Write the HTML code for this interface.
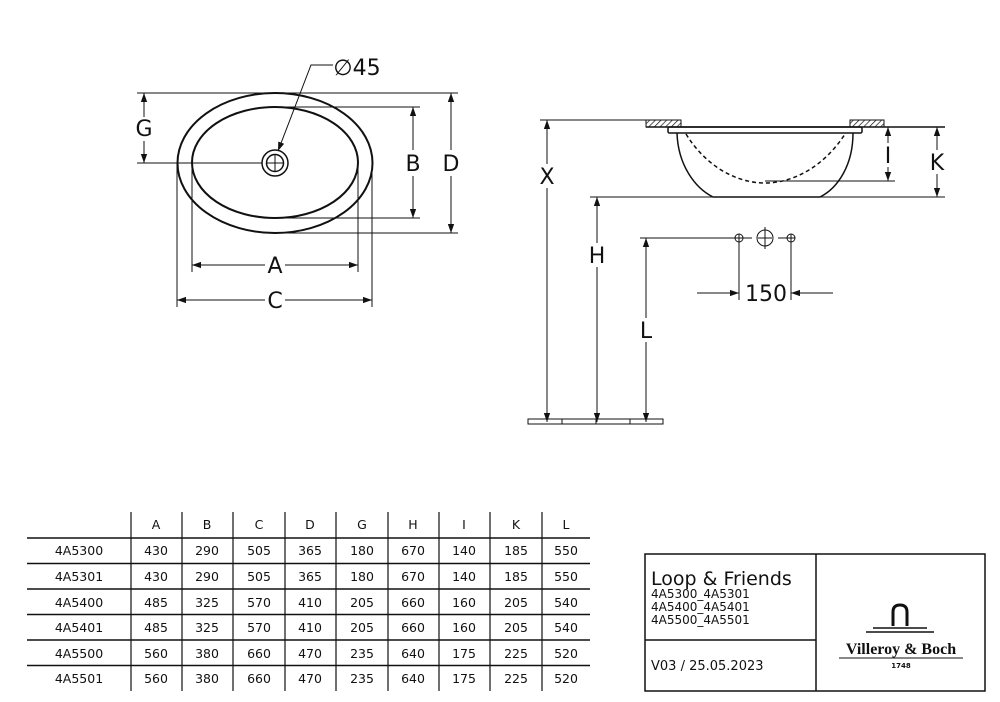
<!DOCTYPE html>
<html><head><meta charset="utf-8"><style>
body{margin:0;background:#fff}
svg{display:block}
text{font-family:"DejaVu Sans","Liberation Sans",sans-serif;fill:#111}
</style></head><body>
<svg width="1000" height="702" viewBox="0 0 1000 702" xmlns="http://www.w3.org/2000/svg">
<defs>
<marker id="a" viewBox="0 0 10 10" refX="10" refY="5" markerWidth="9" markerHeight="9" markerUnits="userSpaceOnUse" orient="auto-start-reverse"><path d="M0,1.5 L10,5 L0,8.5 z" fill="#111"/></marker>
<pattern id="h" width="4" height="4" patternUnits="userSpaceOnUse" patternTransform="rotate(45)"><line x1="0" y1="0" x2="0" y2="4" stroke="#111" stroke-width="1.4"/></pattern>
</defs>
<g stroke="#111" fill="none" stroke-width="1">
<!-- plan view -->
<ellipse cx="275" cy="163" rx="97.5" ry="70" stroke-width="2"/>
<ellipse cx="275" cy="162.5" rx="83" ry="55.5" stroke-width="2"/>
<circle cx="275" cy="163" r="13" stroke-width="1.5"/>
<circle cx="275" cy="163" r="8.5" stroke-width="1.5"/>
<line x1="267" y1="163" x2="283" y2="163"/><line x1="275" y1="155" x2="275" y2="171"/>
<line x1="137" y1="93" x2="458" y2="93"/>
<line x1="137" y1="163" x2="262" y2="163"/>
<line x1="275" y1="107" x2="420" y2="107"/>
<line x1="275" y1="218" x2="420" y2="218"/>
<line x1="275" y1="233" x2="458" y2="233"/>
<line x1="192" y1="163" x2="192" y2="272"/><line x1="358" y1="163" x2="358" y2="272"/>
<line x1="177" y1="163" x2="177" y2="307"/><line x1="372" y1="163" x2="372" y2="307"/>
<line x1="144" y1="93" x2="144" y2="163" marker-start="url(#a)" marker-end="url(#a)"/>
<line x1="413" y1="107" x2="413" y2="218" marker-start="url(#a)" marker-end="url(#a)"/>
<line x1="451" y1="93" x2="451" y2="233" marker-start="url(#a)" marker-end="url(#a)"/>
<line x1="192" y1="265" x2="358" y2="265" marker-start="url(#a)" marker-end="url(#a)"/>
<line x1="177" y1="300" x2="372" y2="300" marker-start="url(#a)" marker-end="url(#a)"/>
<polyline points="333,65 311,65 278,151" marker-end="url(#a)"/>
<!-- side view -->
<line x1="540" y1="120" x2="646" y2="120"/>
<rect x="646" y="120" width="35" height="7" fill="url(#h)"/>
<rect x="850" y="120" width="34" height="7" fill="url(#h)"/>
<line x1="646" y1="127" x2="945" y2="127" stroke-width="1.5"/>
<rect x="668" y="127" width="194" height="6" rx="1.5" stroke-width="1.5"/>
<path d="M677,133 C678,165 695,188 713,197 L820,197 C838,188 853,165 853,133" stroke-width="1.5"/>
<path d="M686,134 C705,165 735,183 765,183 C795,183 825,165 845,134" stroke-dasharray="4,3" stroke-width="1.5"/>
<line x1="765" y1="181" x2="895" y2="181"/>
<line x1="590" y1="197" x2="945" y2="197"/>
<line x1="547" y1="120" x2="547" y2="422" marker-start="url(#a)" marker-end="url(#a)"/>
<line x1="888" y1="127" x2="888" y2="181" marker-start="url(#a)" marker-end="url(#a)"/>
<line x1="937" y1="127" x2="937" y2="197" marker-start="url(#a)" marker-end="url(#a)"/>
<line x1="597" y1="197" x2="597" y2="422" marker-start="url(#a)" marker-end="url(#a)"/>
<line x1="646" y1="238" x2="646" y2="422" marker-start="url(#a)" marker-end="url(#a)"/>
<line x1="640" y1="238" x2="735" y2="238"/>
<line x1="743" y1="238" x2="752" y2="238"/><line x1="778" y1="238" x2="787" y2="238"/>
<circle cx="739" cy="238" r="4"/><line x1="735" y1="238" x2="743" y2="238"/><line x1="739" y1="234" x2="739" y2="242"/>
<circle cx="791" cy="238" r="4"/><line x1="787" y1="238" x2="795" y2="238"/><line x1="791" y1="234" x2="791" y2="242"/>
<circle cx="765" cy="238" r="8"/><line x1="758" y1="238" x2="772" y2="238"/><line x1="765" y1="227" x2="765" y2="249"/>
<line x1="739" y1="242" x2="739" y2="300"/><line x1="791" y1="242" x2="791" y2="300"/>
<line x1="697" y1="293" x2="739" y2="293" marker-end="url(#a)"/>
<line x1="833" y1="293" x2="791" y2="293" marker-end="url(#a)"/>
<rect x="528" y="419" width="135" height="5"/>
<line x1="562" y1="419" x2="562" y2="424"/><line x1="596" y1="419" x2="596" y2="424"/><line x1="630" y1="419" x2="630" y2="424"/>
<!-- table -->
<line x1="27" y1="538" x2="590" y2="538" stroke-width="1.5"/>
<line x1="27" y1="563.5" x2="590" y2="563.5" stroke-width="1.5"/>
<line x1="27" y1="589" x2="590" y2="589" stroke-width="1.5"/>
<line x1="27" y1="614.5" x2="590" y2="614.5" stroke-width="1.5"/>
<line x1="27" y1="640" x2="590" y2="640" stroke-width="1.5"/>
<line x1="27" y1="665.5" x2="590" y2="665.5" stroke-width="1.5"/>
<g stroke-width="1.2">
<line x1="131" y1="512" x2="131" y2="691"/><line x1="182" y1="512" x2="182" y2="691"/>
<line x1="233" y1="512" x2="233" y2="691"/><line x1="285" y1="512" x2="285" y2="691"/>
<line x1="336" y1="512" x2="336" y2="691"/><line x1="388" y1="512" x2="388" y2="691"/>
<line x1="439" y1="512" x2="439" y2="691"/><line x1="490" y1="512" x2="490" y2="691"/>
<line x1="542" y1="512" x2="542" y2="691"/>
</g>
<!-- title block -->
<rect x="645" y="554" width="340" height="137" stroke-width="1.5"/>
<line x1="816" y1="554" x2="816" y2="691" stroke-width="1.5"/>
<line x1="645" y1="640" x2="816" y2="640" stroke-width="1.5"/>
<path d="M893,626 L893,612 Q893,605 900,605 Q907,605 907,612 L907,626" stroke-width="3"/>
<line x1="873" y1="628" x2="927" y2="628" stroke-width="1.5"/>
<line x1="866" y1="632" x2="934" y2="632" stroke-width="1.5"/>
<line x1="839" y1="658" x2="963" y2="658" stroke-width="1"/>
</g>
<g font-size="22" text-anchor="middle">
<rect x="135" y="117" width="18" height="24" fill="#fff"/><text x="144" y="136">G</text>
<rect x="404" y="150" width="18" height="26" fill="#fff"/><text x="413" y="171">B</text>
<rect x="442" y="150" width="18" height="26" fill="#fff"/><text x="451" y="171">D</text>
<rect x="265" y="253" width="20" height="24" fill="#fff"/><text x="275" y="273">A</text>
<rect x="265" y="288" width="20" height="24" fill="#fff"/><text x="275" y="308">C</text>
<text x="357" y="75">∅45</text>
<rect x="538" y="164" width="18" height="24" fill="#fff"/><text x="547" y="184">X</text>
<rect x="588" y="243" width="18" height="24" fill="#fff"/><text x="597" y="263">H</text>
<rect x="637" y="318" width="18" height="24" fill="#fff"/><text x="646" y="338">L</text>
<rect x="880" y="143" width="16" height="24" fill="#fff"/><text x="888" y="163">I</text>
<rect x="928" y="150" width="18" height="24" fill="#fff"/><text x="937" y="170">K</text>
<text x="766" y="301">150</text>
</g>
<g font-size="12.5" text-anchor="middle">
<text x="156" y="529">A</text><text x="207" y="529">B</text><text x="259" y="529">C</text><text x="310" y="529">D</text><text x="362" y="529">G</text><text x="413" y="529">H</text><text x="464" y="529">I</text><text x="516" y="529">K</text><text x="566" y="529">L</text>
</g>
<g font-size="12.5" text-anchor="middle">
<g transform="translate(0,555)"><text x="79">4A5300</text><text x="156">430</text><text x="207">290</text><text x="259">505</text><text x="310">365</text><text x="362">180</text><text x="413">670</text><text x="464">140</text><text x="516">185</text><text x="566">550</text></g>
<g transform="translate(0,581)"><text x="79">4A5301</text><text x="156">430</text><text x="207">290</text><text x="259">505</text><text x="310">365</text><text x="362">180</text><text x="413">670</text><text x="464">140</text><text x="516">185</text><text x="566">550</text></g>
<g transform="translate(0,607)"><text x="79">4A5400</text><text x="156">485</text><text x="207">325</text><text x="259">570</text><text x="310">410</text><text x="362">205</text><text x="413">660</text><text x="464">160</text><text x="516">205</text><text x="566">540</text></g>
<g transform="translate(0,632)"><text x="79">4A5401</text><text x="156">485</text><text x="207">325</text><text x="259">570</text><text x="310">410</text><text x="362">205</text><text x="413">660</text><text x="464">160</text><text x="516">205</text><text x="566">540</text></g>
<g transform="translate(0,658)"><text x="79">4A5500</text><text x="156">560</text><text x="207">380</text><text x="259">660</text><text x="310">470</text><text x="362">235</text><text x="413">640</text><text x="464">175</text><text x="516">225</text><text x="566">520</text></g>
<g transform="translate(0,683)"><text x="79">4A5501</text><text x="156">560</text><text x="207">380</text><text x="259">660</text><text x="310">470</text><text x="362">235</text><text x="413">640</text><text x="464">175</text><text x="516">225</text><text x="566">520</text></g>
</g>
<text x="651" y="585" font-size="19">Loop &amp; Friends</text>
<text x="651" y="598" font-size="12">4A5300_4A5301</text>
<text x="651" y="611" font-size="12">4A5400_4A5401</text>
<text x="651" y="624" font-size="12">4A5500_4A5501</text>
<text x="651" y="670" font-size="13">V03 / 25.05.2023</text>
<text x="901" y="654" font-size="16" font-weight="bold" text-anchor="middle" style="font-family:'Liberation Serif',serif">Villeroy &amp; Boch</text>
<text x="901" y="668" font-size="7" font-weight="bold" text-anchor="middle">1748</text>
</svg>
</body></html>
